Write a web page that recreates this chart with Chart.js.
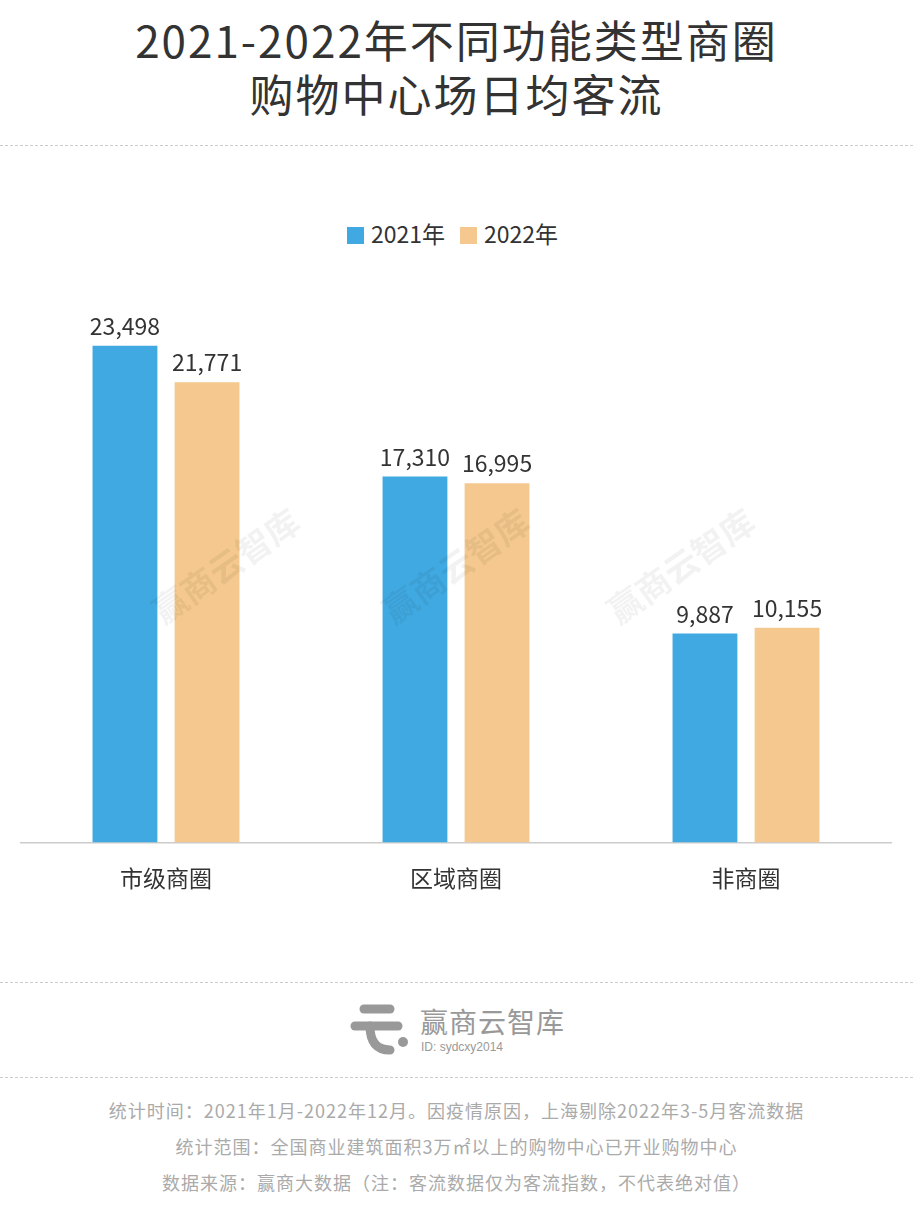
<!DOCTYPE html>
<html><head><meta charset="utf-8">
<script src="https://cdn.jsdelivr.net/npm/chart.js@4"></script>
<style>
body{margin:0;width:913px;height:1210px;background:#fff;font-family:"Noto Sans CJK SC","Noto Sans",sans-serif;position:relative;overflow:hidden}
.t{position:absolute;left:0;width:913px;text-align:center;color:#333}
.dash{position:absolute;left:0;width:913px;border-top:1.5px dashed #ccc}
.wm{position:absolute;color:rgba(0,0,0,0.05);font-size:34px;font-weight:bold;transform:rotate(-35deg)}
.lg{position:absolute;top:219px;font-size:23px;color:#333;line-height:28px}
.lg i{display:inline-block;width:17px;height:17px;margin-right:7px;vertical-align:-1px}
</style></head><body>
<div class="t" style="top:12px;font-size:44px;line-height:54px;letter-spacing:2px">2021-2022年不同功能类型商圈<br>购物中心场日均客流</div>
<div class="dash" style="top:145px"></div>
<div class="lg" style="left:347px"><i style="background:#41a9e1"></i>2021年</div>
<div class="lg" style="left:460px"><i style="background:#f4c88e"></i>2022年</div>
<div style="position:absolute;left:0;top:200px;width:913px;height:720px"><canvas id="c"></canvas></div>
<div class="wm" style="left:140px;top:540px">赢商云智库</div>
<div class="wm" style="left:370px;top:540px">赢商云智库</div>
<div class="wm" style="left:595px;top:540px">赢商云智库</div>
<div class="dash" style="top:982px"></div>
<svg style="position:absolute;left:350px;top:1002px" width="60" height="54">
<line x1="14" y1="7" x2="40" y2="7" stroke="#999" stroke-width="9" stroke-linecap="round"/>
<line x1="5" y1="24" x2="48" y2="24" stroke="#999" stroke-width="9" stroke-linecap="round"/>
<path d="M20 24 Q20 48 40 48" stroke="#999" stroke-width="9" fill="none" stroke-linecap="round"/>
<circle cx="53" cy="40" r="5" fill="#999"/></svg>
<div style="position:absolute;left:420px;top:1001px;font-size:28px;color:#999;letter-spacing:1px">赢商云智库</div>
<div style="position:absolute;left:421px;top:1040px;font-size:12px;color:#999;font-family:'Liberation Sans'">ID: sydcxy2014</div>
<div class="dash" style="top:1077px"></div>
<div class="t" style="top:1092px;font-size:18px;color:#aaa;line-height:36px;letter-spacing:1px">统计时间：2021年1月-2022年12月。因疫情原因，上海剔除2022年3-5月客流数据<br>统计范围：全国商业建筑面积3万㎡以上的购物中心已开业购物中心<br>数据来源：赢商大数据（注：客流数据仅为客流指数，不代表绝对值）</div>
<script>
const categories=["市级商圈","区域商圈","非商圈"];
const seriesNames=["2021年","2022年"];
const values2021=[23498,17310,9887];
const values2022=[21771,16995,10155];
const colors=["#41a9e1","#f4c88e"];
const labelPlugin={id:"lbl",afterDatasetsDraw(ch){const c=ch.ctx;c.save();c.font="23px 'Noto Sans CJK SC'";c.fillStyle="#333";c.textAlign="center";c.textBaseline="bottom";
ch.data.datasets.forEach((d,i)=>{ch.getDatasetMeta(i).data.forEach((b,j)=>{c.fillText(d.data[j].toLocaleString("en-US"),b.x,b.y-8);});});c.restore();}};
new Chart(document.getElementById("c"),{type:"bar",
data:{labels:categories,datasets:[
{label:seriesNames[0],data:values2021,backgroundColor:colors[0]},
{label:seriesNames[1],data:values2022,backgroundColor:colors[1]}]},
options:{responsive:true,maintainAspectRatio:false,animation:false,
categoryPercentage:0.566,barPercentage:0.79,
layout:{padding:{left:21,right:22,top:114,bottom:14}},
plugins:{tooltip:{enabled:false},legend:{display:false}},
scales:{y:{display:false,min:0,max:25000},
x:{grid:{display:false},border:{color:"#ccc",width:1.5},ticks:{color:"#333",padding:14,font:{size:23,family:"Noto Sans CJK SC"}}}}},
plugins:[labelPlugin]});
</script></body></html>
